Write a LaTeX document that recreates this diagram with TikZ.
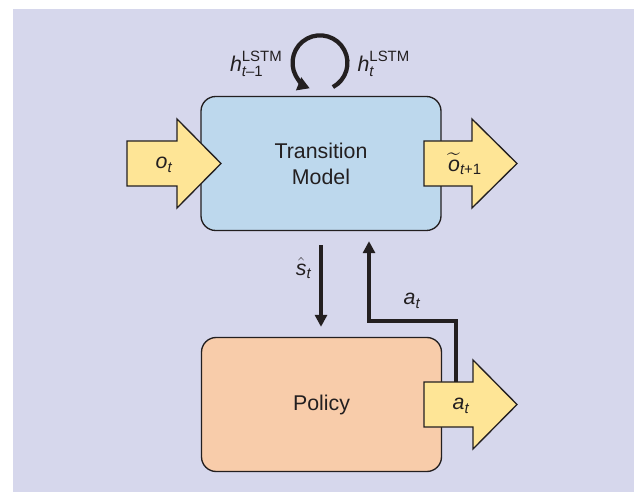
\documentclass[tikz,border=0pt]{standalone}
\usepackage{amsmath}
\usepackage{fontspec}
\setmainfont{Liberation Sans}
\definecolor{bglav}{RGB}{214,215,236}
\definecolor{modelblue}{RGB}{189,216,237}
\definecolor{policypeach}{RGB}{248,204,170}
\definecolor{arrowyellow}{RGB}{254,229,150}
\definecolor{inkgray}{RGB}{35,31,32}
\usetikzlibrary{calc}
\usetikzlibrary{arrows.meta}
\tikzset{
  block/.style={draw=inkgray, text=inkgray, line width=1pt, rounded corners=11pt,
    minimum width=180pt, minimum height=100.5pt, align=center,
    font=\fontsize{16}{19.5}\selectfont},
  fatarrow/.style={draw=inkgray, line width=1pt, fill=arrowyellow},
  sym/.style={text=inkgray, inner sep=1pt, font=\fontsize{16}{19}\selectfont},
  conn/.style={draw=inkgray, line width=2.5pt, -{Triangle[length=9pt,width=9pt]}},
}

\begin{document}
\begin{tikzpicture}[x=0.75pt,y=0.75pt]
  \useasboundingbox (0,0) rectangle (634,492);
  \fill[bglav] (13,0) rectangle (634,483);

  \node[block, fill=modelblue] (trans) at (321,328.5) {Transition\\Model};
  \node[block, fill=policypeach] (policy) at (321.5,87.5) {Policy};

  % big yellow arrows
  \draw[fatarrow] (127,306) -- (177,306) -- (177,284) -- (221,328.5) -- (177,373) -- (177,351) -- (127,351) -- cycle;
  \draw[fatarrow] (424,306) -- (472,306) -- (472,284) -- (517,328.5) -- (472,373) -- (472,351) -- (424,351) -- cycle;
  \draw[fatarrow] (424,65) -- (473,65) -- (473,43) -- (517,87.5) -- (473,132) -- (473,110) -- (424,110) -- cycle;

  \node[sym] (obs) at (164,327) {$\textit{o}_{\textit{t}}$};
  \node[sym] (pred) at (465,328) {$\widetilde{\textit{o}}_{\textit{t}\text{+1}}$};
  \node[sym] (act) at (461,86) {$\textit{a}_{\textit{t}}$};

  % recurrent state loop
  \coordinate (loopc) at ($(trans.north)+(-1,33)$);
  \draw[inkgray, line width=3.2pt, -{Triangle[length=9pt,width=10pt]}]
    ($(loopc)+(-62:20.6pt)$) arc[start angle=-62, end angle=248, radius=20.6pt];
  \node[sym, anchor=east] (hprev) at ($(loopc)+(-36,-1)$) {$\textit{h}^{\text{LSTM}}_{\textit{t}\text{–1}}$};
  \node[sym, anchor=west] (hnext) at ($(loopc)+(36,-1)$) {$\textit{h}^{\text{LSTM}}_{\textit{t}}$};

  % state to policy
  \draw[conn] ($(trans.south)+(0,-14)$) -- ($(policy.north)+(-0.5,10)$);
  \node[sym, anchor=east] (state) at ($(trans.south)+(-8,-37)$) {$\hat{\textit{s}}_{\textit{t}}$};

  % action fed back
  \coordinate (abody) at (456,110);
  \coordinate (bend) at (369,171);
  \draw[conn, shorten >=7.5pt] (abody) |- (bend) -- (bend |- trans.south);
  \node[sym] (aback) at ($(bend)+(43,20)$) {$\textit{a}_{\textit{t}}$};
\end{tikzpicture}
\end{document}
